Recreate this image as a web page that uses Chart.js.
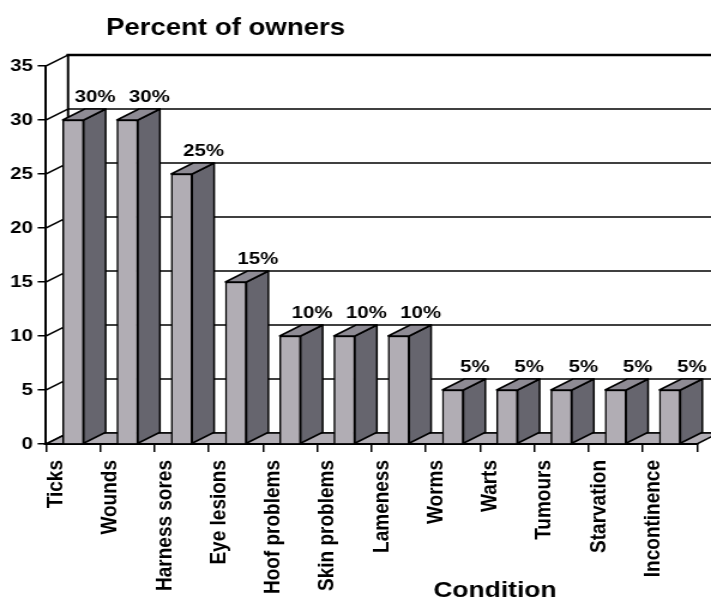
<!DOCTYPE html>
<html>
<head>
<meta charset="utf-8">
<script src="https://cdn.jsdelivr.net/npm/chart.js@4/dist/chart.umd.min.js"></script>
<style>
  html, body { margin: 0; padding: 0; background: #fff; overflow: hidden; }
  /* the reference picture is stretched sideways, so the whole chart is too */
  #wrap { width: 593px; height: 607px; transform: scaleX(1.19899); transform-origin: 0 0; }
</style>
</head>
<body>
<div id="wrap"><canvas id="chart" width="593" height="607"></canvas></div>
<script>
const conditions = ['Ticks', 'Wounds', 'Harness sores', 'Eye lesions', 'Hoof problems', 'Skin problems',
    'Lameness', 'Worms', 'Warts', 'Tumours', 'Starvation', 'Incontinence'];
const percentOwners = [30, 30, 25, 15, 10, 10, 10, 5, 5, 5, 5, 5];
const yTicks = [0, 5, 10, 15, 20, 25, 30, 35];

const FONT = '"Liberation Sans", Arial, sans-serif';
const FRONT = '#b1adb4';
const SIDE = '#66656e';
const TOP = '#8e8b94';
const DX = 18.35, DY = -11;   // depth of the box

function poly(ctx, pts, fill) {
    ctx.beginPath();
    ctx.moveTo(pts[0][0], pts[0][1]);
    for (let i = 1; i < pts.length; i++) ctx.lineTo(pts[i][0], pts[i][1]);
    ctx.closePath();
    if (fill) { ctx.fillStyle = fill; ctx.fill(); }
    ctx.stroke();
}

const box3d = {
    id: 'box3d',
    beforeDatasetsDraw(chart) {
        const ctx = chart.ctx;
        const { left, right, bottom } = chart.chartArea;
        const y = chart.scales.y;
        ctx.save();
        ctx.strokeStyle = '#000';
        ctx.lineCap = 'square';

        // back wall grid
        yTicks.forEach(v => {
            const py = y.getPixelForValue(v);
            ctx.lineWidth = v === 35 ? 2.5 : 1.5;
            ctx.beginPath();
            ctx.moveTo(left + DX, py + DY);
            ctx.lineTo(chart.width + 5, py + DY);
            ctx.stroke();
            // side wall
            ctx.lineWidth = 1.5;
            ctx.beginPath();
            ctx.moveTo(left, py);
            ctx.lineTo(left + DX, py + DY);
            ctx.stroke();
        });
        ctx.lineWidth = 2;
        ctx.beginPath();
        ctx.moveTo(left + DX, y.getPixelForValue(35) + DY);
        ctx.lineTo(left + DX, bottom + DY);
        ctx.stroke();

        // floor
        ctx.lineWidth = 1.5;
        poly(ctx, [[left, bottom], [right, bottom], [right + DX, bottom + DY], [left + DX, bottom + DY]], FRONT);
        ctx.lineWidth = 2;
        ctx.beginPath();
        ctx.moveTo(left, bottom);
        ctx.lineTo(right, bottom);
        ctx.stroke();
        ctx.restore();
    },
    afterDatasetsDraw(chart) {
        const ctx = chart.ctx;
        const meta = chart.getDatasetMeta(0);
        ctx.save();
        ctx.strokeStyle = '#000';
        ctx.lineWidth = 1.5;
        ctx.lineJoin = 'round';
        meta.data.forEach((bar, i) => {
            const p = bar.getProps(['x', 'y', 'base', 'width'], true);
            const l = p.x - p.width / 2, r = p.x + p.width / 2;
            poly(ctx, [[r, p.y], [r + DX, p.y + DY], [r + DX, p.base + DY], [r, p.base]], SIDE);
            poly(ctx, [[l, p.y], [l + DX, p.y + DY], [r + DX, p.y + DY], [r, p.y]], TOP);

            ctx.fillStyle = '#000';
            ctx.font = 'bold 17px ' + FONT;
            ctx.textAlign = 'center';
            ctx.textBaseline = 'alphabetic';
            ctx.fillText(percentOwners[i] + '%', p.x + DX, p.y + DY - 7);
        });
        ctx.restore();
    },
    afterDraw(chart) {
        const ctx = chart.ctx;
        ctx.save();
        ctx.fillStyle = '#000';
        ctx.textBaseline = 'alphabetic';
        ctx.font = 'bold 23px ' + FONT;
        ctx.textAlign = 'left';
        ctx.fillText('Percent of owners', 88.4, 35);
        ctx.font = 'bold 22px ' + FONT;
        ctx.textAlign = 'center';
        ctx.fillText('Condition', 412.8, 597);
        ctx.restore();
    }
};

new Chart(document.getElementById('chart'), {
    type: 'bar',
    data: {
        labels: conditions,
        datasets: [{
            data: percentOwners,
            backgroundColor: FRONT,
            borderColor: '#000',
            borderWidth: 1.5,
            barThickness: 17.5
        }]
    },
    options: {
        responsive: false,
        animation: false,
        layout: { padding: { top: 66, right: 11.7, bottom: 0, left: 0 } },
        plugins: {
            legend: { display: false },
            tooltip: { enabled: false }
        },
        scales: {
            x: {
                grid: { offset: true, drawOnChartArea: false, tickLength: 8, color: '#000', lineWidth: 1.5 },
                border: { display: true, color: '#000', width: 2 },
                ticks: {
                    autoSkip: false, minRotation: 90, maxRotation: 90,
                    labelOffset: -14, padding: 8,
                    color: '#000', font: { family: FONT, size: 19, weight: 'bold' }
                },
                afterFit(scale) { scale.height = 163; }
            },
            y: {
                min: 0, max: 35,
                ticks: { stepSize: 5, padding: 4, color: '#000', font: { family: FONT, size: 17, weight: 'bold' } },
                grid: { drawOnChartArea: false, tickLength: 7, color: '#000', lineWidth: 1.5 },
                border: { display: true, color: '#000', width: 2 },
                afterFit(scale) { scale.width = 38.4; }
            }
        }
    },
    plugins: [box3d]
});
</script>
</body>
</html>
